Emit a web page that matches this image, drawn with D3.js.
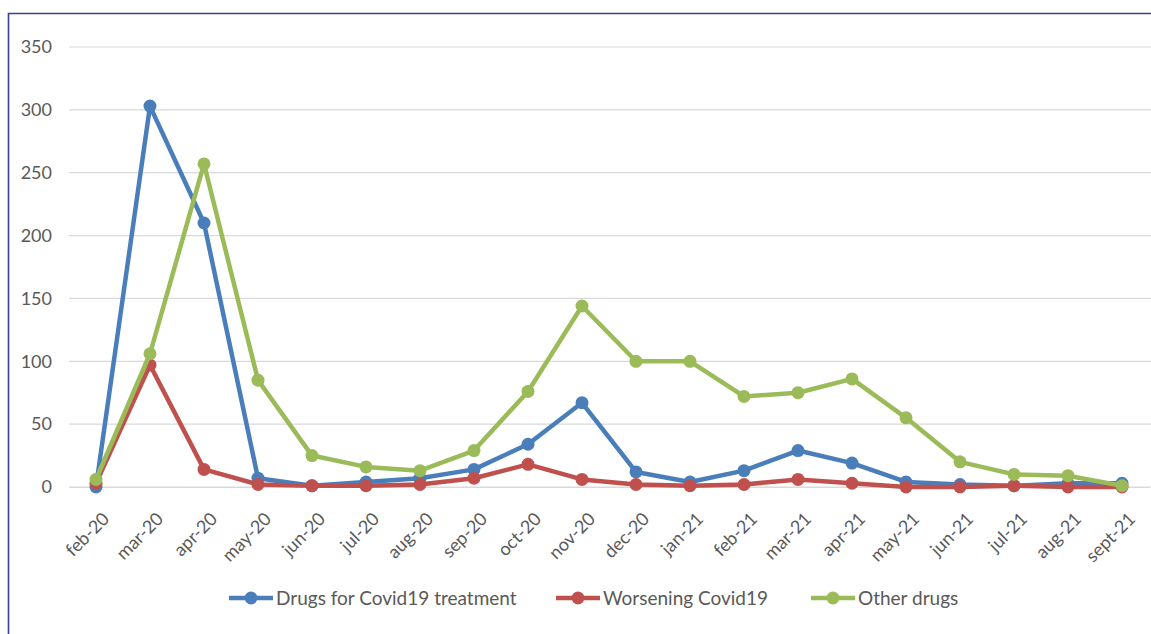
<!DOCTYPE html>
<html><head><meta charset="utf-8">
<script src="https://cdn.jsdelivr.net/npm/d3@7"></script>
<style>
html,body{margin:0;padding:0;background:#fff;}
svg{display:block;font-family:Lato,"Open Sans",sans-serif;}
</style></head>
<body>
<svg id="c" width="1151" height="634"></svg>
<script>
const categories = ["feb-20","mar-20","apr-20","may-20","jun-20","jul-20","aug-20","sep-20","oct-20","nov-20","dec-20","jan-21","feb-21","mar-21","apr-21","may-21","jun-21","jul-21","aug-21","sept-21"];
const drugsCovid = [0,303,210,7,1,4,7,14,34,67,12,4,13,29,19,4,2,1,3,3];
const worsening = [3,97,14,2,1,1,2,7,18,6,2,1,2,6,3,0,0,1,0,0];
const otherDrugs = [6,106,257,85,25,16,13,29,76,144,100,100,72,75,86,55,20,10,9,1];
const yTicks = [0,50,100,150,200,250,300,350];
const seriesNames = ["Drugs for Covid19 treatment","Worsening Covid19","Other drugs"];
const seriesColors = ["#4a7ebb","#c0504d","#9bbb59"];

const svg = d3.select("#c");
const pLeft = 69, pRight = 1149, pTop = 47, pBottom = 487;
const x = d3.scalePoint().domain(categories).range([pLeft, pRight]).padding(0.5);
const y = d3.scaleLinear().domain([0,350]).range([pBottom, pTop]);

// frame
svg.append("path").attr("d","M8.5,640 V13.5 H1160").attr("fill","none").attr("stroke","#3b3f98").attr("stroke-width",1.6);

// gridlines
svg.append("g").selectAll("line").data(yTicks).join("line")
  .attr("x1",pLeft).attr("x2",1151).attr("y1",d=>y(d)).attr("y2",d=>y(d))
  .attr("stroke","#d9d9d9").attr("stroke-width",1.2);

// y axis
const yAxis = d3.axisLeft(y).tickValues(yTicks).tickSize(0).tickPadding(0);
const gy = svg.append("g").attr("transform",`translate(${pLeft-17},0)`).call(yAxis);
gy.select(".domain").remove();
gy.selectAll("text").attr("fill","#595959").style("font-size","18px").style("font-family","Lato,'Open Sans',sans-serif");

// x axis
const xAxis = d3.axisBottom(x).tickSize(0);
const gx = svg.append("g").attr("transform",`translate(0,${pBottom})`).call(xAxis);
gx.select(".domain").attr("stroke","#d9d9d9");
gx.selectAll("text").attr("fill","#595959").style("font-size","18px").style("font-family","Lato,'Open Sans',sans-serif")
  .attr("text-anchor","end").attr("dy",null).attr("y",0)
  .attr("transform","translate(14,33) rotate(-45)");

const allSeries = [drugsCovid, worsening, otherDrugs];
const line = d3.line().x((d,i)=>x(categories[i])).y(d=>y(d));
allSeries.forEach((vals,si)=>{
  const g = svg.append("g");
  g.append("path").datum(vals).attr("d",line).attr("fill","none")
    .attr("stroke",seriesColors[si]).attr("stroke-width",4.5).attr("stroke-linejoin","round");
  g.selectAll("circle").data(vals).join("circle")
    .attr("cx",(d,i)=>x(categories[i])).attr("cy",d=>y(d)).attr("r",6.5)
    .attr("fill",seriesColors[si]);
});

// legend
const legX = [229, 556, 811];
const lg = svg.append("g").attr("transform","translate(0,598)");
seriesNames.forEach((n,i)=>{
  const g = lg.append("g").attr("transform",`translate(${legX[i]},0)`);
  g.append("line").attr("x1",0).attr("x2",44).attr("y1",0).attr("y2",0).attr("stroke",seriesColors[i]).attr("stroke-width",4.5);
  g.append("circle").attr("cx",22).attr("cy",0).attr("r",6.5).attr("fill",seriesColors[i]);
  g.append("text").attr("x",47).attr("y",0).attr("dy","0.35em").attr("fill","#595959").style("font-size","19px").text(n);
});
</script>
</body></html>
